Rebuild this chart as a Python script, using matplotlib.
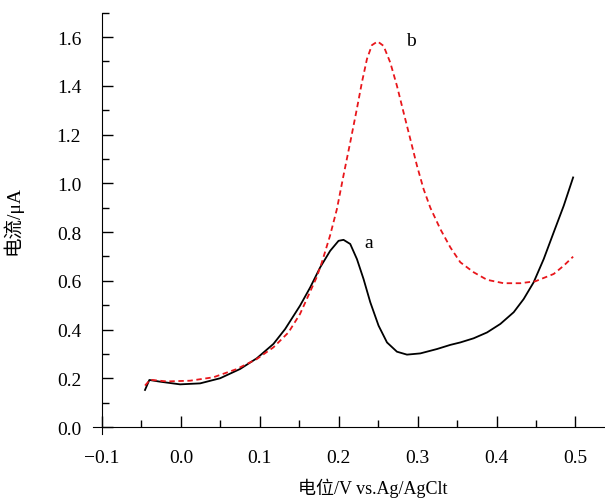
import matplotlib
matplotlib.use("Agg")
import matplotlib.pyplot as plt
from matplotlib.ticker import MultipleLocator

plt.rcParams['font.family'] = ['Liberation Serif', 'Noto Sans CJK SC']

# curve a (black, solid)
a_x = [-0.0455, -0.040, -0.0264, -0.0011, 0.0243, 0.0497, 0.075, 0.0962, 0.1173, 0.1321,
       0.151, 0.1639, 0.1765, 0.1892, 0.1998, 0.2061, 0.2146, 0.2231, 0.2315, 0.2400,
       0.2505, 0.2612, 0.2738, 0.2865, 0.3034, 0.3246, 0.3415, 0.3541, 0.371, 0.388,
       0.4049, 0.4218, 0.4344, 0.4471, 0.4598, 0.4725, 0.4852, 0.4971]
a_y = [0.152, 0.193, 0.186, 0.175, 0.179, 0.200, 0.238, 0.282, 0.341, 0.402,
       0.498, 0.573, 0.655, 0.723, 0.764, 0.768, 0.751, 0.689, 0.607, 0.512,
       0.416, 0.347, 0.309, 0.297, 0.302, 0.320, 0.337, 0.347, 0.364, 0.388,
       0.423, 0.471, 0.525, 0.594, 0.689, 0.799, 0.908, 1.024]

# curve b (red, dashed)
b_x = [-0.0455, -0.039, -0.018, 0.0116, 0.0412, 0.0709, 0.0962, 0.1173, 0.1363, 0.151,
       0.172, 0.1787, 0.189, 0.1977, 0.206, 0.2146, 0.223, 0.2294, 0.2358, 0.2421,
       0.2493, 0.2568, 0.2653, 0.2738, 0.2822, 0.2907, 0.2992, 0.3076, 0.3161, 0.3288,
       0.3415, 0.3541, 0.371, 0.388, 0.409, 0.4302, 0.4493, 0.4725, 0.4852, 0.4971]
b_y = [0.170, 0.194, 0.187, 0.190, 0.204, 0.238, 0.279, 0.327, 0.388, 0.464,
       0.614, 0.676, 0.785, 0.894, 1.031, 1.168, 1.305, 1.414, 1.510, 1.567,
       1.582, 1.564, 1.496, 1.400, 1.291, 1.182, 1.072, 0.976, 0.900, 0.812,
       0.737, 0.676, 0.635, 0.604, 0.590, 0.590, 0.598, 0.628, 0.662, 0.699]

labels = ["a", "b"]
label_pos = [(0.2374, 0.759), (0.292, 1.584)]

fig = plt.figure(figsize=(6.05, 5.02), dpi=100)
ax = fig.add_axes([0.1686, 0.1474, 0.8314, 0.8253])

ax.plot(a_x, a_y, color="black", lw=1.3, solid_joinstyle="round")
ax.plot(b_x, b_y, color="#e8161b", lw=1.3, ls=(0, (3, 2)))

for lab, (lx, ly) in zip(labels, label_pos):
    ax.text(lx, ly, lab, fontsize=14, ha="center", va="center")

ax.set_xlim(-0.1, 0.5375)
ax.set_ylim(0.0, 1.70)
ax.xaxis.set_major_locator(MultipleLocator(0.1))
ax.xaxis.set_minor_locator(MultipleLocator(0.05))
ax.yaxis.set_major_locator(MultipleLocator(0.2))
ax.yaxis.set_minor_locator(MultipleLocator(0.1))
ax.xaxis.set_major_formatter(plt.FuncFormatter(lambda v, p: ("%.1f" % v).replace("-", "\u2212")))
ax.yaxis.set_major_formatter(plt.FuncFormatter(lambda v, p: "%.1f" % v))

ax.spines["top"].set_visible(False)
ax.spines["right"].set_visible(False)
ax.spines["left"].set_bounds(-0.03, 1.70)
ax.spines["bottom"].set_bounds(-0.111, 0.5375)
ax.tick_params(which="both", direction="in", width=1.0, labelsize=14)
ax.tick_params(axis="x", pad=16)
ax.tick_params(axis="y", pad=15)
ax.tick_params(which="major", length=8)
ax.tick_params(which="minor", length=5)

ax.set_ylabel("电流/μA", fontsize=14)
ax.yaxis.set_label_coords(-0.159, 0.5)
ax.set_xlabel("电位/V vs.Ag/AgClt", fontsize=13)
ax.xaxis.set_label_coords(0.539, -0.122)

fig.savefig("out.png", dpi=100)
